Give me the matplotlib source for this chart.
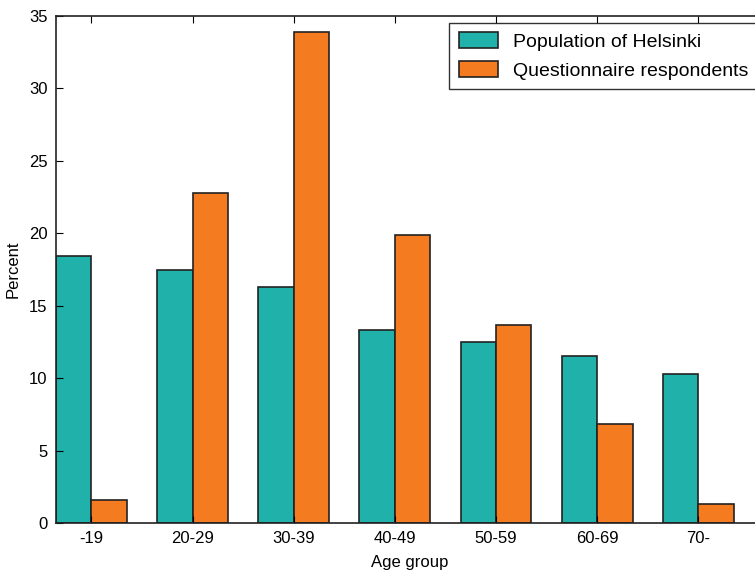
import numpy as np
import matplotlib.pyplot as plt

plt.rcParams['font.family'] = ['Liberation Sans', 'DejaVu Sans']

groups = ["-19", "20-29", "30-39", "40-49", "50-59", "60-69", "70-"]
helsinki = [18.4, 17.5, 16.3, 13.3, 12.5, 11.5, 10.3]
respondents = [1.6, 22.8, 33.9, 19.9, 13.7, 6.8, 1.3]

x = np.arange(len(groups))
w = 0.35

fig = plt.figure(figsize=(7.55, 5.72), dpi=100)
ax = fig.add_axes([56 / 755, 1 - 523 / 572, 708 / 755, 507 / 572])

ax.bar(x - w / 2, helsinki, w, color="#20B2AA", edgecolor="#222222", linewidth=1.2,
       label="Population of Helsinki")
ax.bar(x + w / 2, respondents, w, color="#F47B20", edgecolor="#222222", linewidth=1.2,
       label="Questionnaire respondents")

ax.set_xlim(-0.35, 6.65)
ax.set_ylim(0, 35)
ax.set_xticks(x)
ax.set_xticklabels(groups)
ax.set_yticks(range(0, 36, 5))
ax.tick_params(direction="in", top=True, right=True, labelsize=12, length=5, pad=6)
for s in ax.spines.values():
    s.set_linewidth(1.2)
    s.set_color("#222222")

ax.set_xlabel("Age group", fontsize=12, labelpad=6)
ax.set_ylabel("Percent", fontsize=12, labelpad=6)

# legend box runs slightly past the right edge like the original crop
leg = ax.legend(loc="upper right", fontsize=14, fancybox=False, edgecolor="black",
                bbox_to_anchor=(0.992, 0.987), borderaxespad=0,
                handlelength=2.0, handleheight=0.9, borderpad=0.5)
leg.get_frame().set_linewidth(1.0)

fig.savefig("out.png", dpi=100)
